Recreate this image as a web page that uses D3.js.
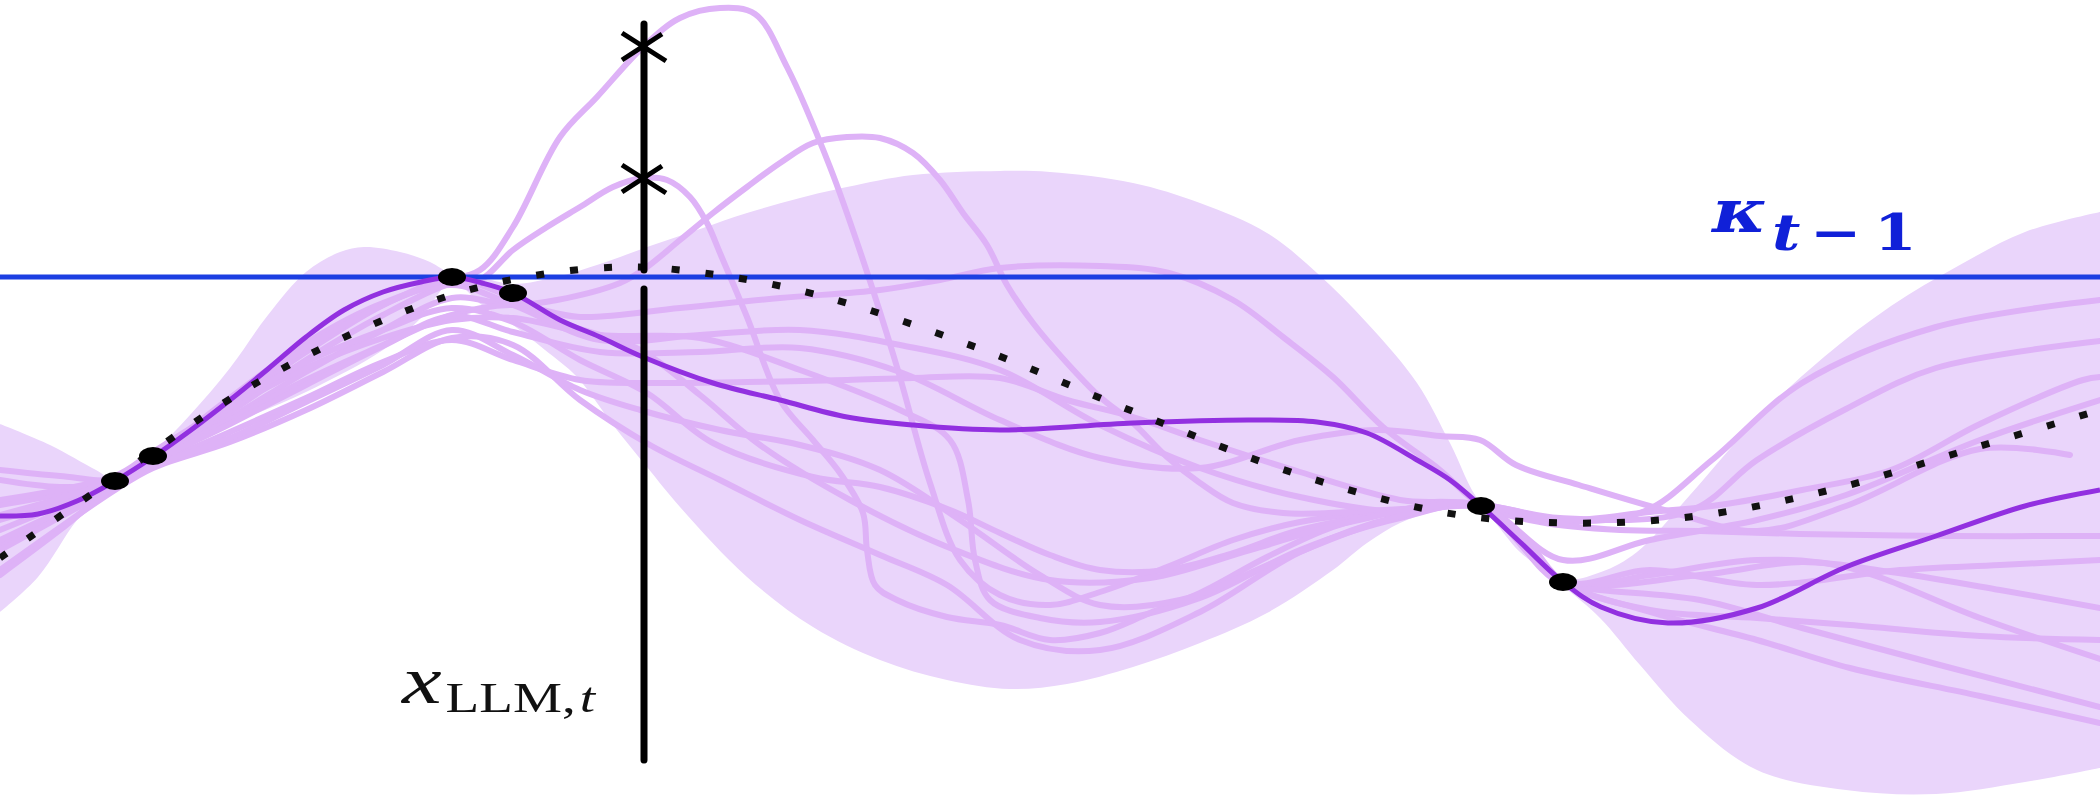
<!DOCTYPE html>
<html>
<head>
<meta charset="utf-8">
<script src="https://cdn.jsdelivr.net/npm/d3@7"></script>
<style>
  body { margin:0; background:#ffffff; overflow:hidden; }
  #c-svg { width:2100px; height:801px; }
</style>
</head>
<body>
<div id="c-svg"></div>
<script>

//threshold and query point
const kappa = 5.24;
const xLLM = 6.44;
const proposals = [7.55, 6.23];

//observed points [x, y]
const observations = [[1.15,3.20],[1.53,3.45],[4.52,5.24],[5.13,5.08],[14.81,2.95],[15.63,2.19]];

//posterior mean
const meanLine = [[0,2.85],[0.38,2.87],[0.77,3.00],[1.15,3.20],[1.53,3.44],[1.91,3.71],[2.30,4.01],[2.68,4.32],[3.06,4.64],[3.44,4.91],[3.83,5.09],[4.21,5.19],[4.52,5.24],[4.82,5.18],[5.13,5.08],[5.60,4.81],[6.00,4.64],[6.43,4.44],[7.13,4.18],[7.80,4.01],[8.47,3.84],[9.13,3.76],[10.0,3.71],[11.33,3.78],[12.50,3.81],[13.17,3.79],[13.67,3.68],[14.17,3.41],[14.50,3.21],[14.81,2.95],[15.20,2.59],[15.63,2.19],[16.01,1.94],[16.68,1.78],[17.57,1.93],[18.46,2.34],[19.36,2.65],[20.25,2.95],[21.0,3.11]];

//true function (dotted)
const dottedLine = [[0,2.43],[1.15,3.23],[2.53,4.16],[3.98,4.87],[5.05,5.20],[6.20,5.34],[7.04,5.28],[8.18,5.06],[9.78,4.53],[11.37,3.88],[13.0,3.26],[14.47,2.88],[15.67,2.78],[16.89,2.84],[18.26,3.10],[19.67,3.51],[21.0,3.91]];

//confidence band
const bandUpper = [[0,3.77],[0.5,3.56],[0.96,3.31],[1.15,3.22],[1.53,3.49],[1.90,3.86],[2.30,4.33],[2.68,4.86],[3.06,5.29],[3.40,5.49],[3.64,5.54],[4.00,5.49],[4.30,5.39],[4.52,5.27],[4.82,5.23],[5.13,5.17],[5.60,5.25],[6.00,5.37],[6.50,5.55],[7.00,5.72],[7.47,5.88],[8.00,6.03],[8.47,6.14],[9.13,6.26],[10.0,6.30],[10.5,6.29],[11.33,6.18],[12.0,5.98],[12.67,5.68],[13.17,5.28],[13.67,4.78],[14.17,4.18],[14.50,3.58],[14.81,2.98],[15.20,2.72],[15.63,2.23],[16.01,2.29],[16.37,2.49],[16.90,3.06],[17.57,3.82],[18.24,4.44],[18.91,4.95],[19.58,5.35],[20.25,5.69],[21.0,5.89]];
const bandLower = [[0,1.89],[0.38,2.24],[0.77,2.81],[1.07,3.13],[1.15,3.17],[1.53,3.39],[1.90,3.56],[2.30,3.76],[3.06,4.09],[3.83,4.51],[4.21,4.83],[4.52,5.19],[4.82,4.96],[5.13,4.76],[5.45,4.51],[5.77,4.24],[6.13,3.76],[6.47,3.34],[6.80,2.94],[7.47,2.24],[8.13,1.74],[8.80,1.41],[9.47,1.21],[10.10,1.12],[10.67,1.17],[11.33,1.34],[12.0,1.58],[12.67,1.88],[13.33,2.31],[13.67,2.58],[14.0,2.78],[14.33,2.89],[14.67,2.93],[14.81,2.92],[15.20,2.49],[15.63,2.15],[16.0,1.83],[16.40,1.36],[16.90,0.81],[17.57,0.31],[18.46,0.11],[19.36,0.07],[20.25,0.19],[21.0,0.33]];

//posterior samples
const sample1 = [[0,2.71],[0.6,2.96],[1.15,3.22],[1.53,3.46],[2.3,3.96],[3.06,4.49],[3.83,4.96],[4.4,5.19],[4.8,5.31],[5.13,5.74],[5.6,6.64],[5.97,7.04],[6.43,7.54],[6.8,7.83],[7.2,7.93],[7.55,7.87],[7.87,7.34],[8.3,6.34],[8.63,5.41],[8.97,4.34],[9.3,3.18],[9.6,2.41],[10.0,2.06],[10.5,1.96],[11.0,2.09],[11.67,2.34],[12.33,2.61],[13.0,2.79],[14.0,2.91],[14.81,2.94],[15.3,2.56],[15.63,2.19],[16.5,1.89],[17.57,1.61],[18.5,1.33],[19.8,1.05],[21.0,0.78]];
const sample2 = [[0,2.96],[0.6,3.07],[1.15,3.19],[1.53,3.43],[2.3,3.89],[3.06,4.41],[3.83,4.86],[4.52,5.18],[4.8,5.21],[5.13,5.51],[5.47,5.74],[5.8,5.94],[6.13,6.14],[6.43,6.23],[6.67,6.21],[6.9,6.04],[7.07,5.78],[7.2,5.48],[7.47,4.84],[7.8,4.01],[8.13,3.61],[8.4,3.28],[8.63,2.88],[8.67,2.51],[8.75,2.16],[8.97,2.01],[9.47,1.84],[10.0,1.76],[10.5,1.61],[11.0,1.68],[11.5,1.88],[12.0,2.08],[12.67,2.44],[13.33,2.74],[14.0,2.91],[14.81,2.96],[15.7,2.8],[16.45,2.9],[17.12,3.41],[18.02,4.18],[19.36,4.74],[21.0,5.01]];
const sample3 = [[0,2.56],[1.15,3.15],[1.53,3.40],[2.3,3.83],[3.06,4.29],[3.83,4.71],[4.52,5.03],[5.13,4.96],[5.57,5.01],[6.2,5.18],[6.43,5.31],[6.8,5.61],[7.13,5.88],[7.47,6.14],[7.8,6.38],[8.13,6.58],[8.47,6.64],[8.8,6.63],[9.13,6.48],[9.4,6.21],[9.63,5.88],[9.87,5.56],[10.07,5.16],[10.33,4.78],[10.67,4.38],[11.0,4.04],[11.33,3.78],[11.67,3.44],[12.0,3.18],[12.33,2.98],[12.83,2.88],[13.5,2.89],[14.2,2.93],[14.81,2.96],[15.6,2.83],[16.9,2.9],[17.57,3.41],[18.46,3.92],[19.36,4.33],[21.0,4.6]];
const sample4 = [[0,3.21],[0.6,3.14],[1.15,3.19],[1.53,3.41],[2.3,3.81],[3.06,4.21],[3.83,4.56],[4.52,4.86],[5.13,4.96],[5.8,4.84],[6.8,4.93],[7.8,5.03],[8.8,5.11],[9.4,5.21],[10.0,5.33],[11.0,5.35],[11.69,5.28],[12.33,5.01],[12.83,4.64],[13.33,4.24],[13.83,3.74],[14.4,3.31],[14.81,2.96],[15.4,2.79],[16.2,2.71],[17.0,2.7],[18.0,2.67],[19.5,2.65],[21.0,2.65]];
const sample5 = [[0,2.81],[1.15,3.21],[1.53,3.46],[2.3,3.93],[3.06,4.33],[3.83,4.63],[4.52,4.81],[5.13,4.83],[6.0,4.66],[7.0,4.63],[8.0,4.31],[9.0,3.91],[9.5,3.61],[9.68,3.01],[9.75,2.41],[9.9,2.01],[10.4,1.83],[11.0,1.79],[12.0,2.03],[13.0,2.51],[14.0,2.83],[14.81,2.94],[15.63,2.17],[16.5,2.26],[17.57,2.41],[18.46,2.34],[19.8,1.83],[21.0,1.42]];
const sample6 = [[0,2.51],[1.15,3.14],[1.53,3.35],[2.3,3.69],[3.06,4.03],[3.83,4.39],[4.52,4.61],[5.13,4.41],[5.8,4.21],[6.47,4.18],[7.47,4.19],[8.47,4.21],[9.13,4.23],[10.0,4.23],[10.67,4.01],[11.33,3.84],[12.0,3.61],[13.0,3.29],[14.0,3.01],[14.81,2.93],[15.63,2.21],[17.0,2.26],[18.02,2.39],[18.91,2.29],[20.0,2.11],[21.0,1.93]];
const sample7 = [[0,3.01],[1.15,3.25],[1.53,3.49],[2.3,3.97],[3.06,4.39],[3.83,4.71],[4.52,4.93],[5.13,4.79],[5.8,4.41],[6.47,4.08],[7.13,3.58],[8.13,3.24],[8.8,3.14],[9.5,2.91],[10.0,2.68],[10.5,2.46],[11.0,2.31],[11.67,2.31],[12.33,2.48],[13.0,2.71],[14.0,2.89],[14.81,2.95],[15.6,2.81],[16.5,2.89],[17.12,2.95],[18.02,3.11],[18.91,3.31],[19.8,3.77],[20.83,4.21],[21.0,4.24]];
const sample8 = [[0,2.31],[1.15,3.11],[1.53,3.33],[2.3,3.59],[3.06,3.91],[3.83,4.29],[4.52,4.63],[5.13,4.56],[5.8,4.01],[6.5,3.56],[7.2,3.21],[8.0,2.81],[8.8,2.46],[9.47,2.16],[10.2,1.61],[11.0,1.51],[12.0,1.89],[13.0,2.49],[14.0,2.85],[14.81,2.95],[15.63,2.16],[16.0,2.11],[17.0,2.01],[18.02,1.73],[19.36,1.37],[21.0,0.94]];
const sample9 = [[0,2.86],[1.15,3.21],[1.53,3.44],[2.3,4.03],[3.06,4.58],[3.83,4.98],[4.52,5.16],[5.13,4.96],[6.0,4.61],[7.0,4.66],[8.0,4.71],[9.0,4.56],[10.0,4.31],[11.0,3.76],[12.0,3.33],[13.0,3.04],[14.0,2.89],[14.81,2.95],[15.63,2.41],[16.5,2.61],[17.57,2.81],[18.46,3.06],[19.8,3.61],[21.0,4.01]];
const sample10 = [[0,2.61],[1.15,3.17],[1.53,3.39],[2.3,3.77],[3.06,4.16],[3.83,4.55],[4.52,4.85],[5.13,4.69],[6.0,4.49],[7.0,4.49],[8.0,4.53],[9.0,4.29],[10.0,3.81],[11.0,3.43],[12.0,3.33],[13.0,3.61],[13.77,3.71],[14.4,3.65],[14.8,3.61],[15.16,3.36],[15.79,3.16],[16.68,2.9],[17.57,2.7],[18.46,2.95],[19.8,3.52],[20.7,3.46]];
const sample11 = [[0,3.31],[0.6,3.25],[1.15,3.22],[1.53,3.45],[2.3,4.01],[3.06,4.53],[3.83,4.96],[4.52,5.21],[5.13,5.03],[5.6,4.79],[6.4,4.51],[7.0,4.06],[7.6,3.56],[8.5,3.01],[9.5,2.53],[10.5,2.21],[11.5,2.23],[12.5,2.51],[13.5,2.79],[14.81,2.95],[15.63,2.19],[16.5,2.31],[17.57,2.16],[19.0,2.31],[20.0,2.36],[21.0,2.41]];
const sample12 = [[0,2.26],[0.6,2.71],[1.15,3.15],[1.53,3.35],[2.3,3.63],[3.06,3.99],[3.83,4.36],[4.52,4.71],[5.13,4.46],[5.8,4.11],[6.4,3.91],[7.2,3.71],[8.0,3.56],[8.8,3.31],[9.6,2.81],[10.4,2.26],[11.0,1.96],[11.8,2.01],[12.8,2.41],[13.8,2.79],[14.81,2.96],[15.63,2.19],[16.5,1.91],[17.57,1.83],[18.5,1.76],[19.8,1.65],[21.0,1.61]];

const samples = [sample1,sample2,sample3,sample4,sample5,sample6,sample7,sample8,sample9,sample10,sample11,sample12];


function graph(){

	//sizing
	let width = 2100;
	let height = 801;

	//initiate svg
	let svg = d3.select("#c-svg")
		.append("svg")
		.attr("width", width)
		.attr("height", height);

	//scales
	let x = d3.scaleLinear().domain([0, 21]).range([0, width]);
	let y = d3.scaleLinear().domain([0, 8.01]).range([height, 0]);

	let line = d3.line()
		.x(d => x(d[0]))
		.y(d => y(d[1]))
		.curve(d3.curveCatmullRom.alpha(0.5));

	//band
	let up = line(bandUpper);
	let lo = line(bandLower.slice().reverse());
	svg.append("path")
		.attr("d", up + "L" + lo.slice(1) + "Z")
		.attr("fill", "#ead5fb");

	//samples
	svg.append("g")
		.selectAll("path")
		.data(samples)
		.join("path")
		.attr("d", line)
		.attr("fill", "none")
		.attr("stroke", "#deb2f7")
		.attr("stroke-width", 6)
		.attr("stroke-linecap", "round");

	//threshold
	svg.append("line")
		.attr("x1", 0).attr("x2", width)
		.attr("y1", y(kappa)).attr("y2", y(kappa))
		.attr("stroke", "#1c3fe2")
		.attr("stroke-width", 5);

	//mean
	svg.append("path")
		.attr("d", line(meanLine))
		.attr("fill", "none")
		.attr("stroke", "#9230e0")
		.attr("stroke-width", 5);

	//dotted truth
	svg.append("path")
		.attr("d", line(dottedLine))
		.attr("fill", "none")
		.attr("stroke", "#111")
		.attr("stroke-width", 7)
		.attr("stroke-dasharray", "8,26");

	//observations
	svg.append("g")
		.selectAll("ellipse")
		.data(observations)
		.join("ellipse")
		.attr("cx", d => x(d[0]))
		.attr("cy", d => y(d[1]))
		.attr("rx", 14)
		.attr("ry", 9)
		.attr("fill", "#000");

	//query line, broken where it meets kappa
	let xq = x(xLLM);
	svg.append("line")
		.attr("x1", xq).attr("x2", xq)
		.attr("y1", y(7.77)).attr("y2", y(kappa) - 7)
		.attr("stroke", "#000").attr("stroke-width", 7).attr("stroke-linecap", "round");
	svg.append("line")
		.attr("x1", xq).attr("x2", xq)
		.attr("y1", y(kappa) + 12).attr("y2", y(0.41))
		.attr("stroke", "#000").attr("stroke-width", 7).attr("stroke-linecap", "round");

	//crosses
	svg.append("g")
		.selectAll("path")
		.data(proposals)
		.join("path")
		.attr("d", d => {
			let cx = xq, cy = y(d);
			return `M${cx-22},${cy-13}L${cx+22},${cy+15}M${cx-22},${cy+14}L${cx+18},${cy-12}`;
		})
		.attr("stroke", "#000")
		.attr("stroke-width", 5)
		.attr("fill", "none");

	//label x_LLM,t
	let lab = svg.append("text")
		.attr("font-family", "'Liberation Serif', serif")
		.attr("fill", "#111");
	lab.append("tspan").attr("font-style", "italic").attr("font-size", 68).text("x");
	lab.append("tspan").attr("font-size", 42).attr("dy", 9).attr("dx", 3).text("LLM,");
	lab.append("tspan").attr("font-size", 42).attr("font-style", "italic").attr("dx", 3).text("t");
	let lw = lab.node().getBBox().width;
	lab.attr("transform", `translate(${xq - 242},${y(0.98)}) scale(${196 / lw},1)`);

	//label kappa_{t-1}
	let kap = svg.append("text")
		.attr("font-family", "'DejaVu Serif', serif")
		.attr("font-weight", "bold")
		.attr("fill", "#1020d8");
	kap.append("tspan").attr("font-style", "italic").attr("font-size", 60).text("κ");
	kap.append("tspan").attr("font-style", "italic").attr("font-size", 50).attr("dy", 18).attr("dx", 4).text("t");
	kap.append("tspan").attr("font-size", 50).attr("dx", 8).text("−");
	kap.append("tspan").attr("font-size", 50).attr("dx", 10).text("1");
	let kw = kap.node().getBBox().width;
	kap.attr("transform", `translate(1712,${y(kappa) - 45}) scale(${206 / kw},1)`);

}

graph();

</script>
</body>
</html>
